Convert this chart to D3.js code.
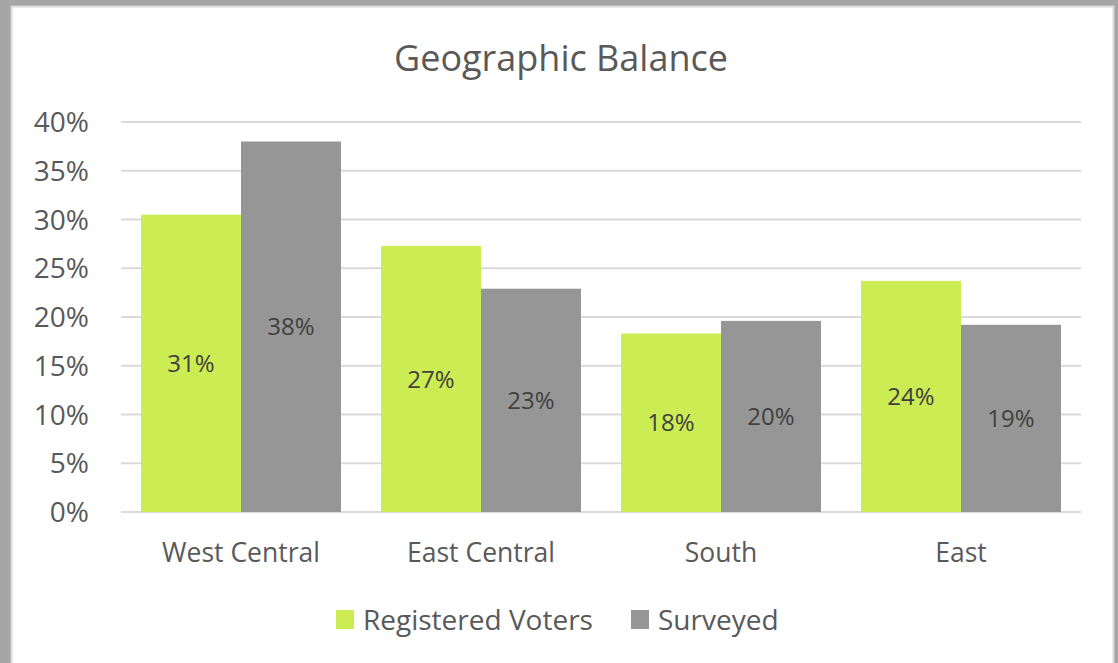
<!DOCTYPE html>
<html>
<head>
<meta charset="utf-8">
<script src="https://cdn.jsdelivr.net/npm/d3@7"></script>
<style>
  body { margin: 0; background: #a6a6a6; }
  svg { display: block; }
</style>
</head>
<body>
<script>
// data
var regions = ['West Central', 'East Central', 'South', 'East']
var seriesNames = ['Registered Voters', 'Surveyed']
var registered = [30.5, 27.3, 18.3, 23.7]
var surveyed = [38.0, 22.9, 19.6, 19.2]
var yTicks = [0, 5, 10, 15, 20, 25, 30, 35, 40]
var colors = ['#cbec52', '#969696']

var w = 1118
var h = 663
var margin = { left: 121, right: 37, top: 122, bottom: 151 }
var font = 'Open Sans, sans-serif'

var svg = d3.select('body')
  .append('svg')
  .attr('width', w)
  .attr('height', h)

// chart background with light frame
svg.append('rect')
  .attr('x', 11.5)
  .attr('y', 6.5)
  .attr('width', 1102)
  .attr('height', 660)
  .attr('fill', 'white')
  .attr('stroke', '#d9d9d9')
  .attr('stroke-width', 2)

var xScale = d3.scaleBand()
  .domain(regions)
  .range([margin.left, w - margin.right])
  .paddingInner(1 / 6)
  .paddingOuter(1 / 12)

var xInner = d3.scaleBand()
  .domain(seriesNames)
  .range([0, xScale.bandwidth()])

var yScale = d3.scaleLinear()
  .domain([0, 40])
  .range([h - margin.bottom, margin.top])

// gridlines
svg.selectAll('line.grid')
  .data(yTicks)
  .enter()
  .append('line')
  .attr('class', 'grid')
  .attr('x1', margin.left)
  .attr('x2', w - margin.right)
  .attr('y1', function (d) { return yScale(d) })
  .attr('y2', function (d) { return yScale(d) })
  .attr('stroke', '#d9d9d9')
  .attr('stroke-width', 2)

// y tick labels
svg.selectAll('text.ytick')
  .data(yTicks)
  .enter()
  .append('text')
  .attr('class', 'ytick')
  .text(function (d) { return d + '%' })
  .attr('x', 89)
  .attr('y', function (d) { return yScale(d) })
  .attr('dy', '0.36em')
  .attr('text-anchor', 'end')
  .attr('font-family', font)
  .attr('font-size', '28px')
  .attr('fill', '#595959')

// bars
var rows = regions.map(function (r, i) {
  return { region: r, values: [registered[i], surveyed[i]] }
})

var groups = svg.selectAll('g.region')
  .data(rows)
  .enter()
  .append('g')
  .attr('class', 'region')
  .attr('transform', function (d) { return 'translate(' + xScale(d.region) + ',0)' })

groups.selectAll('rect')
  .data(function (d) { return d.values })
  .enter()
  .append('rect')
  .attr('x', function (d, i) { return xInner(seriesNames[i]) })
  .attr('y', function (d) { return yScale(d) })
  .attr('width', xInner.bandwidth())
  .attr('height', function (d) { return yScale(0) - yScale(d) })
  .attr('fill', function (d, i) { return colors[i] })

// value labels centred in bars
groups.selectAll('text')
  .data(function (d) { return d.values })
  .enter()
  .append('text')
  .text(function (d) { return Math.round(d) + '%' })
  .attr('x', function (d, i) { return xInner(seriesNames[i]) + xInner.bandwidth() / 2 })
  .attr('y', function (d) { return (yScale(d) + yScale(0)) / 2 })
  .attr('dy', '0.36em')
  .attr('text-anchor', 'middle')
  .attr('font-family', font)
  .attr('font-size', '24px')
  .attr('fill', '#404040')

// category labels
svg.selectAll('text.xcat')
  .data(regions)
  .enter()
  .append('text')
  .attr('class', 'xcat')
  .text(function (d) { return d })
  .attr('x', function (d) { return xScale(d) + xScale.bandwidth() / 2 })
  .attr('y', 552)
  .attr('dy', '0.36em')
  .attr('text-anchor', 'middle')
  .attr('font-family', font)
  .attr('font-size', '26.5px')
  .attr('fill', '#595959')

// title
svg.append('text')
  .text('Geographic Balance')
  .attr('x', 561)
  .attr('y', 58)
  .attr('dy', '0.36em')
  .attr('text-anchor', 'middle')
  .attr('font-family', font)
  .attr('font-size', '36px')
  .attr('fill', '#595959')

// legend
var legendX = [336, 631]
var legend = svg.selectAll('g.legend')
  .data(seriesNames)
  .enter()
  .append('g')
  .attr('class', 'legend')
  .attr('transform', function (d, i) { return 'translate(' + legendX[i] + ',610)' })

legend.append('rect')
  .attr('width', 18)
  .attr('height', 19)
  .attr('fill', function (d, i) { return colors[i] })

legend.append('text')
  .text(function (d) { return d })
  .attr('x', 27)
  .attr('y', 9.5)
  .attr('dy', '0.36em')
  .attr('font-family', font)
  .attr('font-size', '28px')
  .attr('fill', '#595959')
</script>
</body>
</html>
